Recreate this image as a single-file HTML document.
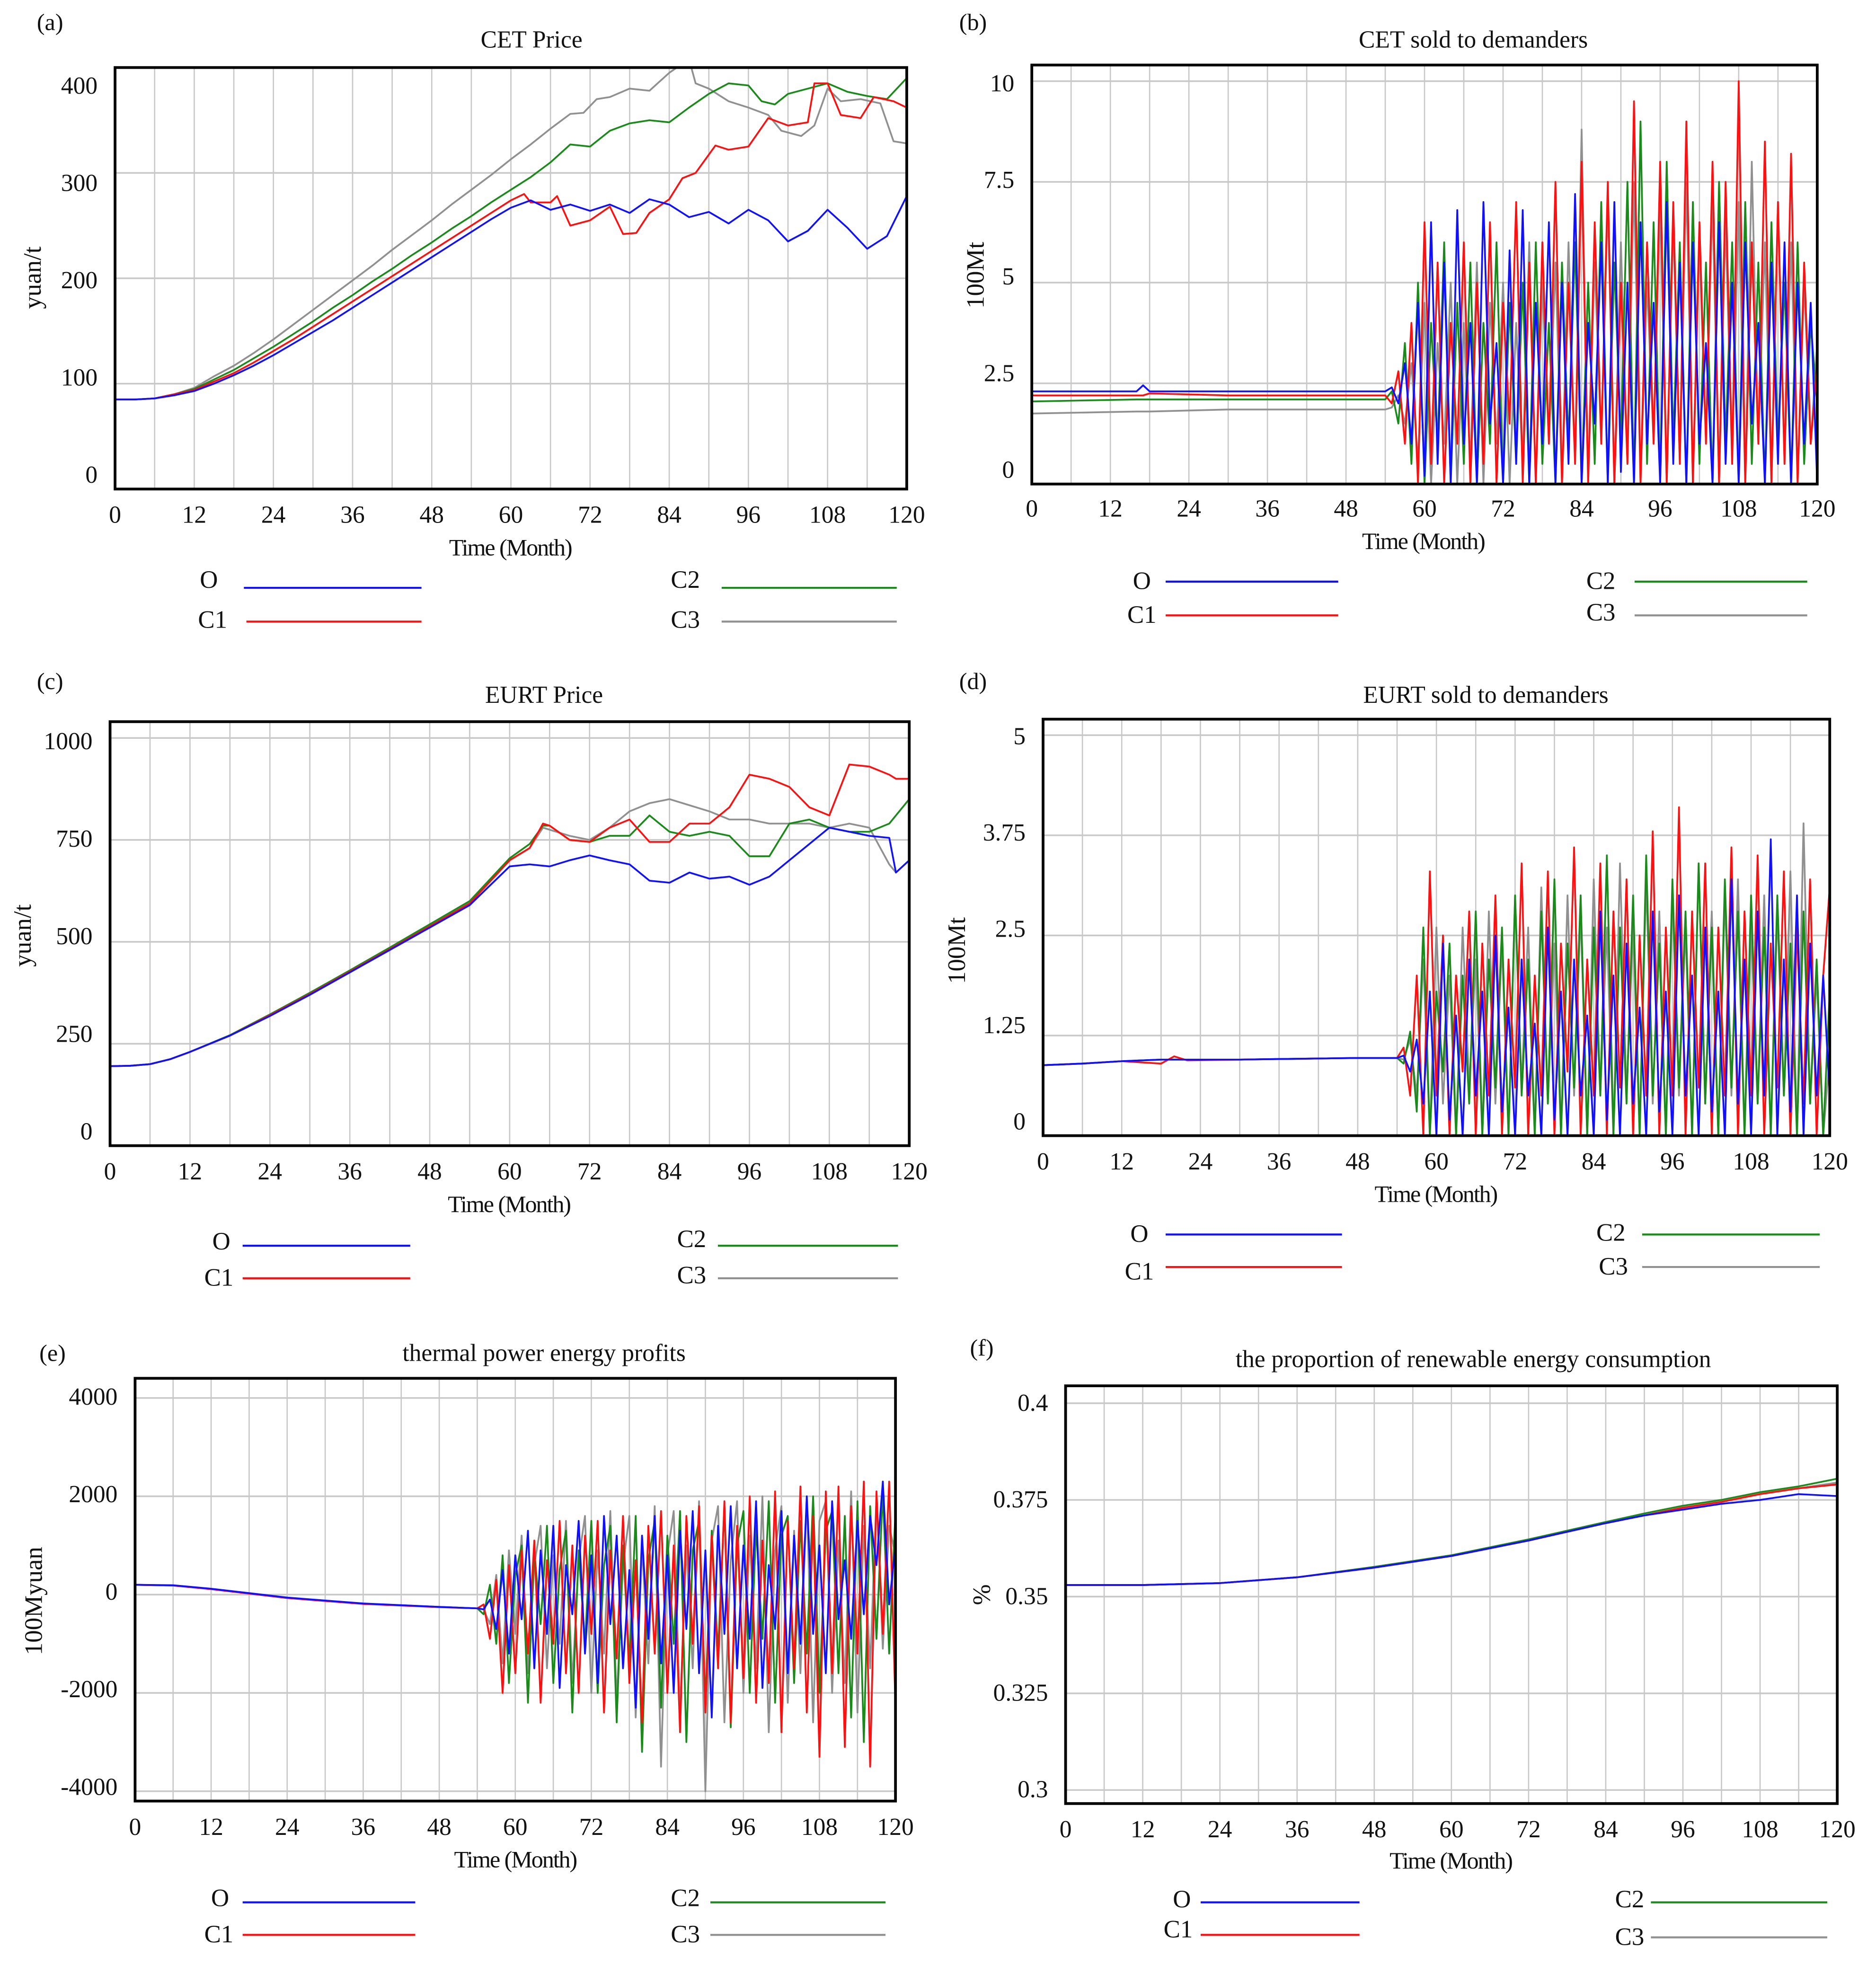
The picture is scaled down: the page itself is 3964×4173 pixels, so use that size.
<!DOCTYPE html>
<html><head><meta charset="utf-8">
<style>
html,body{margin:0;padding:0;background:#fff;}
svg{display:block;}
text{font-family:"Liberation Serif",serif;fill:#111;}
</style></head>
<body>
<svg id="fig" width="3964" height="4173" viewBox="0 0 3964 4173" xmlns="http://www.w3.org/2000/svg">
<rect width="3964" height="4173" fill="#fff"/>
<g id="root" transform="scale(2.6427)"></g>
</svg>
<script>
// ---------- (a) CET Price ----------
const aMonthsO=[0,3,6,9,12,15,18,21,24,27,30,33,36,39,42,45,48,51,54,57,60,63,66,69,72,75,78,81,84,87,90,93,96,99,102,105,108,111,114,117,120];
const aO=[85,85,86,89,93,100,108,117,127,138,149,160,172,184,196,208,220,232,244,256,267,274,265,270,264,270,262,275,270,258,263,252,265,255,235,245,265,248,228,240,278];
const aMonthsC1=[0,3,6,9,12,15,18,21,24,27,30,33,36,39,42,45,48,51,54,57,60,62,63,66,67,69,72,75,77,79,81,84,86,88,91,93,96,99,102,105,106,108,110,113,115,118,120];
const aC1=[85,85,86,90,94,102,110,120,131,142,154,166,178,190,202,214,226,238,250,262,274,280,272,272,278,250,255,268,242,243,262,275,295,300,326,322,325,352,345,348,385,385,355,352,372,368,362];
const aMonthsC2=[0,3,6,9,12,15,18,21,24,27,30,33,36,39,42,45,48,51,54,57,60,63,66,69,72,75,78,81,84,87,90,93,96,98,100,102,105,108,111,114,117,120];
const aC2=[85,85,86,90,95,104,113,124,135,147,159,172,184,197,209,222,234,247,259,272,284,296,310,327,325,340,347,350,348,362,375,385,383,368,365,375,380,385,377,373,370,390];
const aMonthsC3=[0,3,6,9,12,15,18,21,24,27,30,33,36,39,42,45,48,51,54,57,60,63,66,69,71,73,75,78,81,84,87,88,90,93,96,99,101,104,106,108,110,113,116,118,120];
const aC3=[85,85,86,90,96,107,117,129,142,156,170,184,198,212,227,241,255,270,284,298,313,327,342,356,357,370,372,380,378,395,408,385,380,368,362,355,340,335,345,380,368,370,366,330,328];

// ---------- (b) CET sold to demanders ----------
const bPrefixMonths=[0,16,17,18,30,48];
const bTailStart=54;
const bO=[2.3,2.3,2.45,2.3,2.3,2.3];
const bOTail=[2.3,2.4,2.0,3.0,1.0,4.5,0.2,6.5,0.5,5.5,0,6.8,1.0,4.0,0,7.0,1.5,3.5,0,5.8,0.5,6.8,0,4.5,1.0,6.5,0,5.0,0.5,7.2,0,4.0,1.5,6.0,0,7.0,0.3,5.0,0,6.5,1.0,4.5,0,7.0,0.5,5.5,0,6.0,1.0,3.5,0,6.5,0.5,5.0,0,6.0,1.5,4.0,0,5.5,0.5,6.0,0,5.0,1.0,4.5,0];
const bC1=[2.2,2.2,2.2,2.25,2.2,2.2];
const bC1Tail=[2.2,2.0,2.8,1.0,4.0,0,6.5,0.5,5.5,0,4.0,1.0,6.0,0,5.0,0.5,6.5,0,4.5,1.5,7.0,0,5.5,0,6.0,1.0,7.5,0,5.0,0.5,8.0,0,6.5,1.0,7.5,0,5.0,0.5,9.5,0,6.0,1.0,8.0,0,7.0,0.5,9.0,0,6.5,1.0,8.0,0,7.5,0.5,10,0,6.0,1.0,8.5,0,7.0,0.5,8.2,0,5.5,1.0,3.0];
const bC2=[2.05,2.1,2.1,2.1,2.1,2.1];
const bC2Tail=[2.1,2.3,1.5,3.5,0.5,5.0,0,4.0,1.0,6.0,0,4.5,0.5,5.5,0,4.0,1.0,6.0,0,4.5,0.5,5.0,0,6.0,0.5,4.0,0,5.5,1.0,6.0,0,5.0,0.5,7.0,0,5.5,1.0,7.5,0,9.0,0.5,6.5,0,8.0,1.0,6.0,0,7.0,0.5,5.5,0,7.5,1.0,6.0,0,7.0,0.5,5.5,0,6.5,1.0,5.0,0,6.0,0.5,4.0,2.0];
const bC3=[1.75,1.8,1.8,1.8,1.85,1.85];
const bC3Tail=[1.85,1.9,2.2,1.5,3.0,0.5,4.5,0,3.5,1.0,5.0,0,4.0,0.5,5.5,0,4.5,1.0,5.0,0,4.0,0.5,6.0,0,5.0,1.0,5.5,0,6.0,0.5,8.8,0,5.5,1.0,7.0,0,6.0,0.5,7.5,0,5.0,1.0,7.0,0,6.5,0.5,7.5,0,6.0,1.0,7.0,0,6.5,0.5,7.0,0,8.0,1.0,6.0,0,7.0,0.5,6.0,0,5.0,1.0,3.5];

// ---------- (c) EURT Price ----------
const cMonthsO=[0,3,6,9,12,18,24,30,36,42,48,54,60,63,66,69,72,75,78,81,84,87,90,93,96,99,102,105,108,111,114,117,118,120];
const cO=[195,196,200,212,230,270,318,370,425,480,535,590,685,690,685,700,712,700,690,650,645,670,655,660,640,660,700,740,780,770,760,755,670,700];
const cMonthsC1=[0,3,6,9,12,18,24,30,36,42,48,54,60,63,65,66,69,72,75,78,81,84,87,90,93,96,99,102,105,108,111,114,117,118,120];
const cC1=[195,196,200,212,230,270,320,372,427,482,538,594,700,730,790,785,750,745,780,800,745,745,790,790,830,910,900,880,830,810,935,930,910,900,900];
const cMonthsC2=[0,3,6,9,12,18,24,30,36,42,48,54,60,63,65,66,69,72,75,78,81,84,87,90,93,96,99,102,105,108,111,114,117,120];
const cC2=[195,196,200,212,230,271,322,375,430,486,543,600,705,740,785,785,750,745,760,760,810,770,760,770,760,710,710,790,800,780,770,770,790,850];
const cMonthsC3=[0,3,6,9,12,18,24,30,36,42,48,54,60,63,65,69,72,75,78,81,84,87,90,93,96,99,102,105,108,111,114,117,118,120];
const cC3=[195,196,200,212,230,270,320,373,428,484,540,597,700,730,780,760,750,780,820,840,850,835,820,800,800,790,790,790,780,790,780,690,670,700];

// ---------- (d) EURT sold to demanders ----------
const dPrefixMonths=[0,6,12,18,20,22,30,48];
const dTailStart=54;
const dO=[0.88,0.9,0.93,0.95,0.95,0.95,0.95,0.97];
const dOTail=[0.97,1.0,0.8,1.2,0.4,1.8,0,2.4,0.2,1.5,0,2.2,0.5,1.8,0,2.5,0.3,1.6,0,2.2,0.5,1.4,0,2.6,0.2,1.8,0,2.2,0.5,1.5,0,2.8,0.2,2.0,0,2.4,0.4,1.6,0,2.8,0.3,1.8,0,3.0,0.5,2.0,0,2.6,0.3,1.8,0,3.2,0.4,2.2,0,2.8,0.5,3.7,0,2.2,0.3,3.0,0,2.4,0.5,2.0,0.5];
const dC1=[0.88,0.9,0.93,0.9,0.99,0.94,0.95,0.97];
const dC1Tail=[0.97,1.1,0.5,2.0,0,3.3,0.5,2.5,0,2.0,0.8,2.8,0,2.4,0.5,3.0,0,2.2,0.6,3.4,0,2.0,0.5,3.3,0,2.4,0.8,3.6,0,2.2,0.5,3.4,0,2.8,0.6,3.2,0,2.5,0.5,3.8,0,2.6,0.5,4.1,0,2.8,0.6,3.4,0,2.6,0.5,3.6,0,2.8,0.5,3.5,0,2.4,0.6,3.3,0,2.6,0.4,3.2,0,2.0,3.1];
const dC2=[0.88,0.9,0.93,0.95,0.95,0.95,0.95,0.97];
const dC2Tail=[0.97,0.9,1.3,0.3,2.6,0,1.8,0.8,2.4,0,2.0,0.4,2.8,0,2.2,0.6,2.6,0,3.0,0.5,2.2,0,2.8,0.4,3.2,0,2.4,0.6,3.0,0,2.6,0.5,3.5,0,2.6,0.4,3.0,0,3.5,0.5,2.4,0,3.2,0.6,2.8,0,3.4,0.4,2.6,0,3.2,0.6,2.8,0,3.0,0.4,2.6,0,3.0,0.5,2.4,0,2.8,0.4,2.2,0,1.8];
const dC3=[0.88,0.9,0.93,0.95,0.95,0.95,0.95,0.97];
const dC3Tail=[0.97,0.95,1.2,0.5,2.2,0,2.6,0.4,2.0,0,2.6,0.6,2.2,0,2.8,0.4,2.4,0,3.0,0.6,2.6,0,3.1,0.4,2.4,0,3.0,0.5,2.8,0,3.2,0.5,2.6,0,3.4,0.5,2.6,0,3.2,0.4,2.8,0,3.0,0.5,2.6,0,3.4,0.4,2.8,0,3.0,0.5,3.2,0,2.6,0.4,3.0,0,2.8,0.5,3.3,0,3.9,0.4,2.0,0,1.0];

// ---------- (e) thermal power energy profits ----------
const ePrefixMonths=[0,6,12,24,36,48,54];
const eTailStart=55;
const eO=[200,190,120,-60,-180,-250,-280];
const eOTail=[-300,-100,-700,500,-1200,800,-500,1300,-1500,900,-800,1400,-1900,600,-400,1500,-1200,800,-1800,1600,-600,1200,-1500,500,-2300,1200,-900,1600,-1400,800,-2000,1300,-700,1700,-1600,900,-2500,1400,-800,1800,-1500,1000,-900,1900,-1900,600,-700,1700,-1600,1200,-1000,2000,-800,1000,-1600,1900,-500,700,-900,1500,-400,1600,600,2300,-200,1000];
const eC1=[200,185,110,-70,-190,-255,-280];
const eC1Tail=[-200,-900,300,-2000,600,-1600,900,-1200,1100,-2200,700,-1000,1500,-1600,1000,-2000,1200,-800,1500,-2400,900,-1300,1600,-1800,700,-2600,1400,-1200,1700,-2000,1000,-2800,1600,-1000,1800,-2400,1200,-1500,1900,-2600,1400,-1700,2000,-2200,1100,-1800,2100,-2800,1500,-1500,2200,-2400,1600,-3300,2100,-1600,2200,-3100,1800,-1200,2300,-3500,2100,-800,2300,-2300];
const eC2=[200,185,115,-65,-185,-250,-280];
const eC2Tail=[-400,200,-1000,800,-1800,400,1000,-2200,900,-600,1400,-1800,500,1300,-2400,900,-1000,1500,-2000,600,1400,-2600,1000,-1400,1600,-3200,700,1500,-2300,1200,-1000,1700,-3000,900,1500,-2200,1300,-1200,1800,-2700,1000,1700,-2000,1400,-900,1900,-2200,1200,1600,-1800,1500,-1200,2000,-2000,1300,1700,-1600,1600,-2500,1900,-3000,1800,-900,2100,-1200,1700];
const eC3=[200,185,115,-65,-185,-250,-280];
const eC3Tail=[-300,-600,400,-1400,900,-800,1200,-1600,600,1400,-1500,800,-1000,1500,-1800,700,1600,-2000,900,-1200,1700,-2200,600,1600,-2500,1000,-1400,1800,-3500,800,1700,-2400,1000,-1500,1900,-4000,1100,1800,-2600,700,1900,-2000,1200,-1500,2000,-2800,900,1800,-2200,1300,-1600,2000,-2600,1500,1900,-2000,1100,-1800,2100,-2400,1400,-1500,2000,-1100,1400,800];

// ---------- (f) proportion of renewable energy consumption ----------
const fMonths=[0,12,24,36,48,60,72,84,90,96,102,108,114,120];
const fO=[0.353,0.353,0.3535,0.355,0.3575,0.3605,0.3645,0.369,0.371,0.3725,0.374,0.375,0.3765,0.376];
const fC1=[0.353,0.353,0.3535,0.355,0.3575,0.3605,0.3645,0.369,0.371,0.373,0.3745,0.3765,0.378,0.379];
const fC2=[0.353,0.353,0.3535,0.355,0.3577,0.3607,0.3648,0.3693,0.3715,0.3735,0.375,0.377,0.3785,0.3805];
const fC3=[0.353,0.353,0.3535,0.355,0.3575,0.3605,0.3645,0.369,0.371,0.373,0.3745,0.3765,0.378,0.3795];

const COLORS={O:'#1010ff',C1:'#ff1010',C2:'#1a8a1a',C3:'#909090'};
const NS='http://www.w3.org/2000/svg';
const root=document.getElementById('root');
function mk(tag,attrs,parent){const e=document.createElementNS(NS,tag);for(const k in attrs)e.setAttribute(k,attrs[k]);(parent||root).appendChild(e);return e;}
function withTail(prefixMonths,prefix,start,tail){
  return {m:prefixMonths.concat(tail.map((_,i)=>start+i)),v:prefix.concat(tail)};
}

const panels=[
 {id:'a',label:'(a)',lx:40,ly:24,title:'CET Price',tx:425,ty:38,x0:92,x1:725,y0:54,y1:391,ymin:0,ymax:400,
  yticks:['400','300','200','100','0'],ytv:[400,300,200,100,0],labTop:68,labBot:379,ytitle:'yuan/t',ytx:28,yty:222,
  xly:418,timeX:408,timeY:444,
  leg:{O:[167,470,195,337,470],C1:[170,502,197,337,497],C2:[548,470,577,717,470],C3:[548,502,577,717,497]},
  series:[['C3',aMonthsC3,aC3],['C2',aMonthsC2,aC2],['C1',aMonthsC1,aC1],['O',aMonthsO,aO]]},
 {id:'b',label:'(b)',lx:778,ly:24,title:'CET sold to demanders',tx:1178,ty:38,x0:825,x1:1453,y0:52,y1:387,ymin:0,ymax:10.4,
  yticks:['10','7.5','5','2.5','0'],ytv:[10,7.5,5,2.5,0],labTop:66,labBot:375,ytitle:'100Mt',ytx:782,yty:220,
  xly:413,timeX:1138,timeY:439,
  leg:{O:[913,471,932,1070,465],C1:[913,498,932,1070,492],C2:[1280,471,1307,1445,465],C3:[1280,496,1307,1445,492]},
  series:[['C3',withTail(bPrefixMonths,bC3,bTailStart,bC3Tail)],['C2',withTail(bPrefixMonths,bC2,bTailStart,bC2Tail)],['C1',withTail(bPrefixMonths,bC1,bTailStart,bC1Tail)],['O',withTail(bPrefixMonths,bO,bTailStart,bOTail)]]},
 {id:'c',label:'(c)',lx:40,ly:551,title:'EURT Price',tx:435,ty:562,x0:88,x1:727,y0:577,y1:916,ymin:0,ymax:1040,
  yticks:['1000','750','500','250','0'],ytv:[1000,750,500,250,0],labTop:592,labBot:904,ytitle:'yuan/t',ytx:20,yty:748,
  xly:943,timeX:407,timeY:969,
  leg:{O:[177,999,194,328,996],C1:[175,1028,194,328,1022],C2:[553,997,574,718,996],C3:[553,1026,574,718,1022]},
  series:[['C3',cMonthsC3,cC3],['C2',cMonthsC2,cC2],['C1',cMonthsC1,cC1],['O',cMonthsO,cO]]},
 {id:'d',label:'(d)',lx:778,ly:551,title:'EURT sold to demanders',tx:1188,ty:562,x0:834,x1:1463,y0:575,y1:908,ymin:0,ymax:5.2,
  yticks:['5','3.75','2.5','1.25','0'],ytv:[5,3.75,2.5,1.25,0],labTop:588,labBot:896,ytitle:'100Mt',ytx:767,yty:760,
  xly:935,timeX:1148,timeY:961,
  leg:{O:[911,993,932,1073,987],C1:[911,1023,932,1073,1013],C2:[1288,992,1313,1455,987],C3:[1290,1019,1313,1455,1013]},
  series:[['C3',withTail(dPrefixMonths,dC3,dTailStart,dC3Tail)],['C2',withTail(dPrefixMonths,dC2,dTailStart,dC2Tail)],['C1',withTail(dPrefixMonths,dC1,dTailStart,dC1Tail)],['O',withTail(dPrefixMonths,dO,dTailStart,dOTail)]]},
 {id:'e',label:'(e)',lx:42,ly:1088,title:'thermal power energy profits',tx:435,ty:1088,x0:108,x1:716,y0:1102,y1:1440,ymin:-4200,ymax:4400,
  yticks:['4000','2000','0','-2000','-4000'],ytv:[4000,2000,0,-2000,-4000],labTop:1116,labBot:1428,ytitle:'100Myuan',ytx:29,yty:1280,
  xly:1467,timeX:412,timeY:1493,
  leg:{O:[176,1524,194,332,1521],C1:[175,1553,194,332,1547],C2:[548,1524,568,708,1521],C3:[548,1553,568,708,1547]},
  series:[['C3',withTail(ePrefixMonths,eC3,eTailStart,eC3Tail)],['C2',withTail(ePrefixMonths,eC2,eTailStart,eC2Tail)],['C1',withTail(ePrefixMonths,eC1,eTailStart,eC1Tail)],['O',withTail(ePrefixMonths,eO,eTailStart,eOTail)]]},
 {id:'f',label:'(f)',lx:785,ly:1084,title:'the proportion of renewable energy consumption',tx:1178,ty:1093,x0:852,x1:1469,y0:1108,y1:1442,ymin:0.2965,ymax:0.4045,
  yticks:['0.4','0.375','0.35','0.325','0.3'],ytv:[0.4,0.375,0.35,0.325,0.3],labTop:1121,labBot:1430,ytitle:'%',ytx:787,yty:1275,
  xly:1469,timeX:1160,timeY:1494,
  leg:{O:[945,1525,960,1087,1521],C1:[942,1549,960,1087,1547],C2:[1303,1525,1320,1461,1521],C3:[1303,1555,1320,1461,1549]},
  series:[['C3',fMonths,fC3],['C2',fMonths,fC2],['C1',fMonths,fC1],['O',fMonths,fO]]}
];
const xTickLabels=['0','12','24','36','48','60','72','84','96','108','120'];

panels.forEach(p=>{
  const g=mk('g',{});
  
  
  const xs=m=>p.x0+(p.x1-p.x0)*m/120;
  const ys=v=>p.y1-(p.y1-p.y0)*(v-p.ymin)/(p.ymax-p.ymin);
  const lab=mk('text',{x:p.lx,y:p.ly,'font-size':19,'text-anchor':'middle'},g);lab.textContent=p.label;
  
  
  const t=mk('text',{x:p.tx,y:p.ty,'font-size':19.5,'text-anchor':'middle'},g);t.textContent=p.title;
  
  
  for(let m=6;m<120;m+=6){const l=mk('line',{x1:xs(m),x2:xs(m),y1:p.y0,y2:p.y1,stroke:'#c8c8c8','stroke-width':1},g);
    
    }
  p.ytv.forEach((v,i)=>{
    const gy=ys(v);
    if(gy>p.y0+2&&gy<p.y1-2){const l=mk('line',{x1:p.x0,x2:p.x1,y1:gy,y2:gy,stroke:'#c8c8c8','stroke-width':1.3},g);
      
      }
    const ly=p.labTop+(p.labBot-p.labTop)*i/(p.ytv.length-1)+7;
    const tt=mk('text',{x:p.x0-14,y:ly,'font-size':19.5,'text-anchor':'end'},g);tt.textContent=p.yticks[i];
    
    
  });
  xTickLabels.forEach((s,i)=>{const tt=mk('text',{x:xs(i*12),y:p.xly,'font-size':19.5,'text-anchor':'middle'},g);tt.textContent=s;
    
    });
  const xt=mk('text',{x:p.timeX,y:p.timeY,'font-size':19,'text-anchor':'middle','letter-spacing':'-0.8'},g);xt.textContent='Time (Month)';
  
  
  const yt=mk('text',{x:p.ytx,y:p.yty,'font-size':20,'text-anchor':'middle',transform:`rotate(-90 ${p.ytx} ${p.yty})`,'dominant-baseline':'middle'},g);yt.textContent=p.ytitle;
  
  
  const clipId='clip'+p.id;
  const cp=mk('clipPath',{id:clipId},g);mk('rect',{x:p.x0,y:p.y0,width:p.x1-p.x0,height:p.y1-p.y0},cp);
  p.series.forEach(s=>{
    const name=s[0];let ms,vs;
    if(Array.isArray(s[1])){ms=s[1];vs=s[2];}else{ms=s[1].m;vs=s[1].v;}
    const pts=vs.map((v,i)=>xs(ms[i]).toFixed(2)+','+ys(v).toFixed(2)).join(' ');
    const pl=mk('polyline',{points:pts,fill:'none',stroke:COLORS[name],'stroke-width':1.4,'stroke-linejoin':'round','clip-path':`url(#${clipId})`},g);
    
    
  });
  const box=mk('rect',{x:p.x0,y:p.y0,width:p.x1-p.x0,height:p.y1-p.y0,fill:'none',stroke:'#000','stroke-width':2.2},g);
  
  
  Object.keys(p.leg).forEach(k=>{
    const L=p.leg[k];
    const lt=mk('text',{x:L[0],y:L[1],'font-size':20,'text-anchor':'middle'},g);lt.textContent=k;
    
    
    const ll=mk('line',{x1:L[2],x2:L[3],y1:L[4],y2:L[4],stroke:COLORS[k],'stroke-width':1.6},g);
    
    
  });
});
</script>
</body></html>
